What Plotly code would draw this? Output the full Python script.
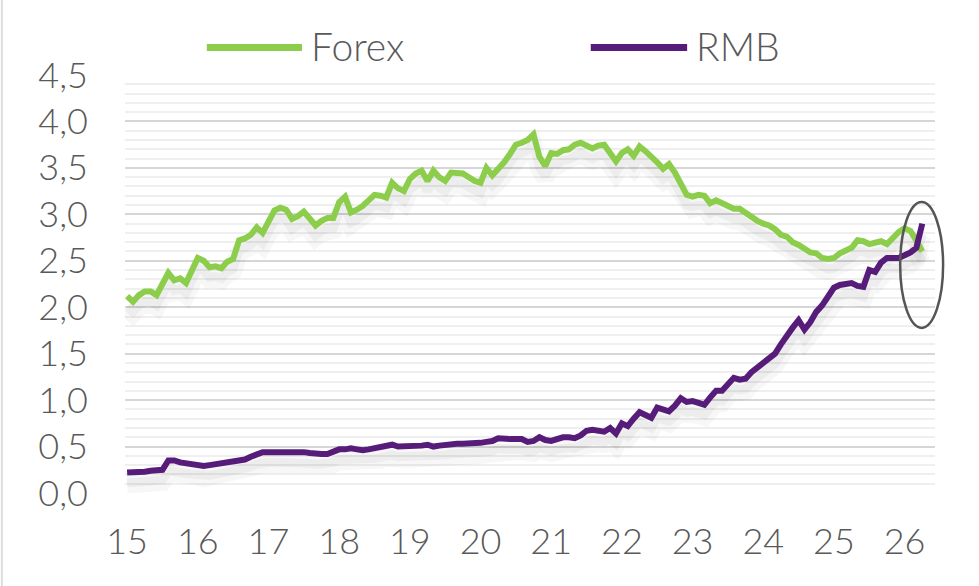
import plotly.graph_objects as go

# monthly data, Jan 2015 -> Apr 2026
start_year = 2015
forex = [
    2.12, 2.06, 2.13, 2.17, 2.17, 2.13, 2.25, 2.37, 2.29, 2.31, 2.26, 2.40,  # 2015
    2.53, 2.50, 2.43, 2.44, 2.42, 2.49, 2.52, 2.72, 2.74, 2.78, 2.86, 2.80,  # 2016
    2.92, 3.04, 3.07, 3.05, 2.95, 2.98, 3.03, 2.96, 2.88, 2.93, 2.96, 2.96,  # 2017
    3.13, 3.19, 3.02, 3.05, 3.09, 3.15, 3.21, 3.20, 3.18, 3.34, 3.28, 3.25,  # 2018
    3.38, 3.44, 3.47, 3.36, 3.47, 3.40, 3.36, 3.45, 3.45, 3.44, 3.40, 3.36,  # 2019
    3.34, 3.50, 3.42, 3.48, 3.56, 3.65, 3.75, 3.77, 3.80, 3.86, 3.62, 3.52,  # 2020
    3.66, 3.65, 3.69, 3.70, 3.75, 3.77, 3.74, 3.71, 3.74, 3.75, 3.66, 3.57,  # 2021
    3.66, 3.70, 3.63, 3.73, 3.68, 3.63, 3.56, 3.49, 3.54, 3.45, 3.33, 3.21,  # 2022
    3.19, 3.21, 3.20, 3.12, 3.15, 3.12, 3.08, 3.06, 3.06, 3.01, 2.96, 2.93,  # 2023
    2.90, 2.88, 2.84, 2.78, 2.76, 2.70, 2.67, 2.63, 2.59, 2.58, 2.53, 2.52,  # 2024
    2.53, 2.58, 2.61, 2.64, 2.72, 2.71, 2.68, 2.70, 2.71, 2.68, 2.75, 2.81,  # 2025
    2.85, 2.82, 2.72, 2.60,                                                  # 2026
]
rmb = [
    0.22, 0.22, 0.22, 0.23, 0.24, 0.25, 0.25, 0.35, 0.35, 0.33, 0.32, 0.31,  # 2015
    0.31, 0.29, 0.30, 0.31, 0.32, 0.33, 0.34, 0.35, 0.36, 0.39, 0.42, 0.44,  # 2016
    0.44, 0.44, 0.44, 0.44, 0.44, 0.45, 0.44, 0.43, 0.42, 0.42, 0.42, 0.44,  # 2017
    0.47, 0.47, 0.48, 0.47, 0.46, 0.47, 0.48, 0.49, 0.51, 0.52, 0.50, 0.50,  # 2018
    0.50, 0.50, 0.51, 0.52, 0.50, 0.51, 0.52, 0.53, 0.53, 0.53, 0.53, 0.53,  # 2019
    0.54, 0.55, 0.56, 0.59, 0.58, 0.58, 0.58, 0.58, 0.55, 0.56, 0.60, 0.57,  # 2020
    0.56, 0.58, 0.60, 0.60, 0.59, 0.62, 0.67, 0.68, 0.67, 0.66, 0.70, 0.64,  # 2021
    0.75, 0.72, 0.80, 0.87, 0.84, 0.81, 0.92, 0.90, 0.88, 0.94, 1.02, 0.98,  # 2022
    0.99, 0.97, 0.95, 1.03, 1.10, 1.10, 1.17, 1.24, 1.22, 1.23, 1.30, 1.35,  # 2023
    1.40, 1.43, 1.50, 1.60, 1.70, 1.78, 1.86, 1.76, 1.84, 1.95, 2.02, 2.11,  # 2024
    2.21, 2.24, 2.25, 2.26, 2.23, 2.22, 2.40, 2.38, 2.48, 2.53, 2.53, 2.53,  # 2025
    2.56, 2.59, 2.64, 2.90,                                                  # 2026
]
year_ticks = list(range(2015, 2027))
year_labels = ["15", "16", "17", "18", "19", "20", "21", "22", "23", "24", "25", "26"]

green = "#8cce4c"
purple = "#571c7a"
grey_txt = "#595959"
font_fam = "Lato"

x = [start_year + i / 12 for i in range(len(forex))]

fig = go.Figure()

# soft drop shadows under the lines
for vals in (forex, rmb):
    fig.add_trace(go.Scatter(x=x, y=[v - 0.13 for v in vals], mode="lines",
                             line=dict(color="rgba(0,0,0,0.03)", width=18),
                             hoverinfo="skip", showlegend=False))
    fig.add_trace(go.Scatter(x=x, y=[v - 0.11 for v in vals], mode="lines",
                             line=dict(color="rgba(0,0,0,0.04)", width=9),
                             hoverinfo="skip", showlegend=False))

fig.add_trace(go.Scatter(x=x, y=forex, mode="lines", name="Forex",
                         line=dict(color=green, width=6), showlegend=False))
fig.add_trace(go.Scatter(x=x, y=rmb, mode="lines", name="RMB",
                         line=dict(color=purple, width=6), showlegend=False))

# hand-made legend (long line samples)
legend_items = [("Forex", green, 0.101, 0.2185), ("RMB", purple, 0.575, 0.694)]
for name, col, x0, x1 in legend_items:
    fig.add_shape(type="line", xref="paper", yref="paper", x0=x0, x1=x1,
                  y0=1.066, y1=1.066, line=dict(color=col, width=7))
    fig.add_annotation(text=name, xref="paper", yref="paper", x=x1 + 0.009, y=1.07,
                       xanchor="left", yanchor="middle", showarrow=False,
                       font=dict(family=font_fam, size=39, color=grey_txt, weight=300))

# ellipse highlighting the latest months
fig.add_shape(type="circle", xref="paper", yref="paper",
              x0=0.957, x1=1.010, y0=0.395, y1=0.696,
              line=dict(color="#555555", width=2.5))
# thin frame line on the left edge
fig.add_shape(type="line", xref="paper", yref="paper", x0=-0.152, x1=-0.152,
              y0=-0.23, y1=1.19, line=dict(color="#dddddd", width=2))

fig.update_layout(
    width=979, height=586,
    margin=dict(l=125, r=44, t=75, b=93),
    plot_bgcolor="white", paper_bgcolor="white",
    separators=", ",
    font=dict(family=font_fam, size=36, color=grey_txt, weight=300),
)
fig.update_xaxes(range=[2014.97, 2026.43], tickvals=year_ticks, ticktext=year_labels,
                 showgrid=False, zeroline=False, showline=False, ticks="",
                 ticklabelstandoff=24)
fig.update_yaxes(range=[0, 4.5], dtick=0.5, tickformat=".1f",
                 gridcolor="#d6d6d6", gridwidth=2, zeroline=False, showline=False,
                 ticks="", ticklabelstandoff=36,
                 minor=dict(dtick=0.1, showgrid=True, gridcolor="#efefef", gridwidth=2))

fig.write_html("out.html", config={"displayModeBar": False},
               post_script="document.body.style.margin='0';")
